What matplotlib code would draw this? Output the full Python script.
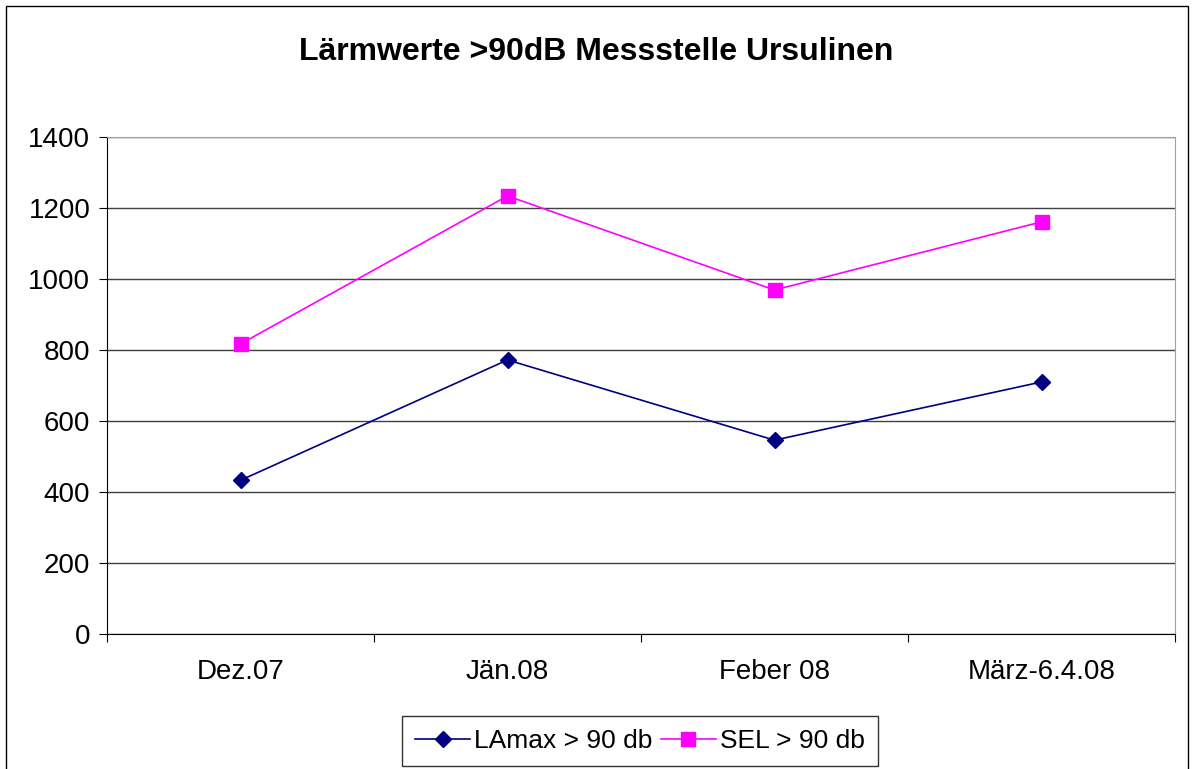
import matplotlib.pyplot as plt
from matplotlib.patches import Rectangle

categories = ['Dez.07', 'Jän.08', 'Feber 08', 'März-6.4.08']
lamax = [433, 772, 546, 710]
sel = [817, 1234, 969, 1161]

plt.rcParams['font.family'] = ['Liberation Sans', 'DejaVu Sans']

fig = plt.figure(figsize=(11.92, 7.69), dpi=100)
ax = fig.add_axes([107 / 1192, 1 - 634 / 769, (1175 - 107) / 1192, (634 - 137) / 769])

x = range(len(categories))
ax.plot(x, lamax, color='#000080', marker='D', markersize=8, linewidth=1.2, label='LAmax > 90 db')
ax.plot(x, sel, color='#FF00FF', marker='s', markersize=10, linewidth=1.2, label='SEL > 90 db')

ax.set_xlim(-0.5, 3.5)
ax.set_ylim(0, 1400)
ax.set_yticks(range(0, 1401, 200))
ax.yaxis.grid(True, color='#404040', linewidth=1)
ax.set_axisbelow(True)

ax.set_xticks([-0.5, 0.5, 1.5, 2.5, 3.5])
ax.set_xticklabels([])
ax.set_xticks(list(x), minor=True)
ax.set_xticklabels(categories, minor=True)
ax.tick_params(axis='x', which='minor', length=0, pad=18, labelsize=20)
ax.tick_params(axis='x', which='major', length=6, direction='out', color='black')
ax.tick_params(axis='y', length=6, direction='out', labelsize=20, pad=6)

for s in ['top', 'right']:
    ax.spines[s].set_color('#a0a0a0')
ax.spines['left'].set_color('black')
ax.spines['bottom'].set_color('black')

fig.text(0.5, 1 - 52 / 769, 'Lärmwerte >90dB Messstelle Ursulinen', ha='center', va='center',
         fontsize=23, fontweight='bold')

leg = fig.legend(loc='center', bbox_to_anchor=(640 / 1192, 1 - 741 / 769), ncol=2, frameon=True,
                 fancybox=False, edgecolor='black', fontsize=19, handlelength=2.1,
                 columnspacing=0.3, handletextpad=0.15, borderpad=0.5)
leg.get_frame().set_linewidth(1)

fig.patches.append(Rectangle((6 / 1192, -0.01), (1188 - 6) / 1192, 1 - 6 / 769 + 0.01,
                             transform=fig.transFigure, fill=False, edgecolor='black', linewidth=1))

fig.savefig('out.png', dpi=100)
